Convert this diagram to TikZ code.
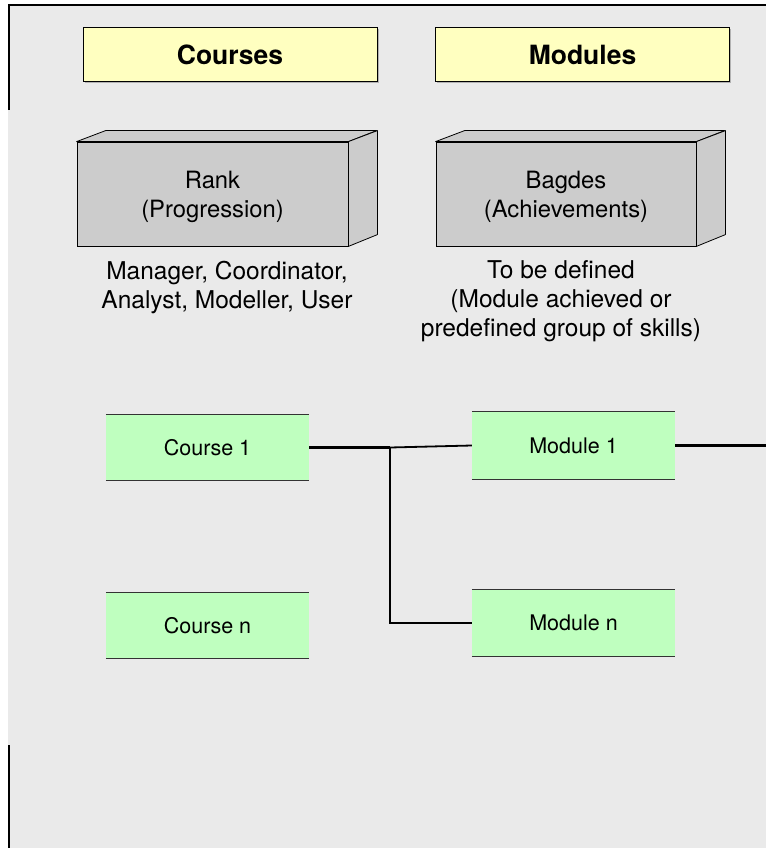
\documentclass[tikz,border=0pt]{standalone}
\usepackage{fontspec}
\setmainfont{TeX Gyre Heros}
\usetikzlibrary{shadows}
\definecolor{bggray}{HTML}{EAEAEA}
\definecolor{hdryellow}{HTML}{FFFFC0}
\definecolor{boxgray}{HTML}{CCCCCC}
\definecolor{boxgreen}{HTML}{BFFFBF}
\begin{document}
\begin{tikzpicture}[x=1pt,y=-1pt,
  hdr/.style={draw=black, line width=1pt, fill=hdryellow, minimum width=294pt, minimum height=54pt,
    inner sep=0pt, font=\fontsize{26.5}{30}\selectfont\bfseries,
    drop shadow={shadow xshift=1.5pt, shadow yshift=-1.5pt, fill=gray!60, opacity=1}},
  cube/.style={draw=black, line width=0.8pt, fill=boxgray, minimum height=104pt, inner sep=0pt},
  cubelabel/.style={align=center, inner sep=0pt, font=\fontsize{23.8}{29}\selectfont},
  cubeface/.style={draw=black, line width=0.8pt, fill=boxgray, line join=round},
  note/.style={align=center, font=\fontsize{24.5}{29}\selectfont, inner sep=0pt},
  item/.style={fill=boxgreen, minimum width=203pt, inner sep=0pt, font=\fontsize{21.5}{25}\selectfont},
  edgeline/.style={draw=black!80, line width=0.9pt},
  thickconn/.style={line width=2.6pt},
  thinconn/.style={line width=1.8pt}
]
\useasboundingbox (0,0) rectangle (766,848);
\fill[bggray] (8,4) rectangle (766,848);
\draw[line width=2.6pt] (9,110) -- (9,5) -- (766,5);
\draw[line width=2.6pt] (9,745) -- (9,848);

% headers
\node[hdr] (courses) at (230,55) {Courses};
\node[hdr] (modules) at (582.5,55) {Modules};

% 3D boxes
\node[cube, minimum width=271pt] (rank) at (212.5,194) {};
\draw[cubeface] (rank.north west) -- ++(29,-11) -- ++(271,0) -- (rank.north east) -- cycle;
\draw[cubeface] (rank.north east) -- ++(29,-11) -- ++(0,104) -- (rank.south east) -- cycle;
\node[cubelabel] (ranklabel) at ([yshift=-3pt]rank.center) {Rank\\(Progression)};
\node[cube, minimum width=260pt] (badges) at (566,194) {};
\draw[cubeface] (badges.north west) -- ++(29,-11) -- ++(260,0) -- (badges.north east) -- cycle;
\draw[cubeface] (badges.north east) -- ++(29,-11) -- ++(0,104) -- (badges.south east) -- cycle;
\node[cubelabel] (badgelabel) at ([yshift=-3pt]badges.center) {Bagdes\\(Achievements)};

% notes
\node[note] (ranknote) at (227,287.5) {Manager, Coordinator,\\Analyst, Modeller, User};
\node[note] (badgenote) at (561,301.5) {To be defined\\(Module achieved or\\predefined group of skills)};

% items
\node[item, minimum height=65pt] (c1) at (207.5,447.5) {Course 1};
\node[item, minimum height=67pt] (m1) at (573.5,445.5) {Module 1};
\node[item, minimum height=65pt] (cn) at (207.5,625.5) {Course n};
\node[item, minimum height=66pt] (mn) at (573.5,623) {Module n};
\foreach \n in {c1,m1,cn,mn}{
  \draw[edgeline] (\n.north west) -- (\n.north east);
  \draw[edgeline] (\n.south west) -- (\n.south east);
}

% connectors
\coordinate (junc) at (390,447.5);
\coordinate (rightend) at (766,445.5);
\draw[thickconn] (c1.east) -- (junc);
\draw[thinconn] (junc) -- (m1.west);
\draw[thinconn] (junc) |- (mn.west);
\draw[thickconn] (m1.east) -- (rightend);
\end{tikzpicture}
\end{document}
